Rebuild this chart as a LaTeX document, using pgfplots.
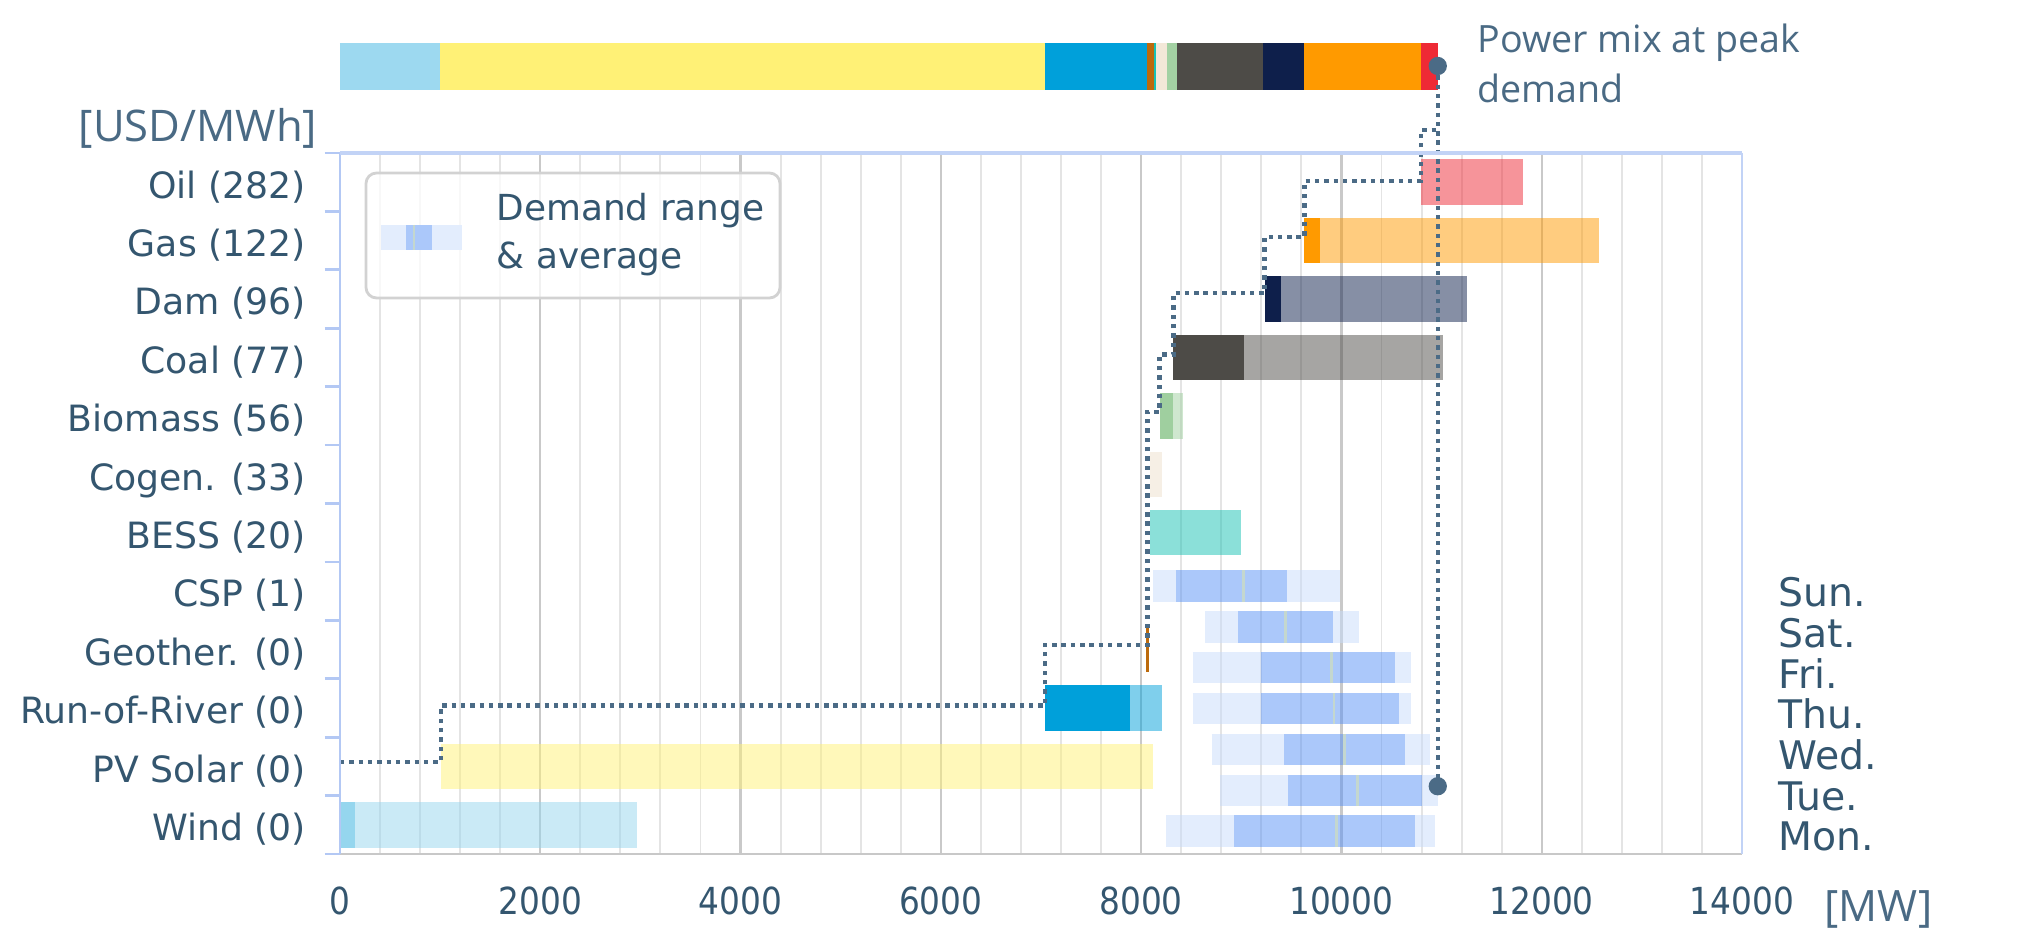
\documentclass[border=0pt]{standalone}
\usepackage{pgfplots}
\pgfplotsset{compat=1.18}
\usepackage{fontspec}
\setmainfont{DejaVu Sans}
\newfontfamily\osans{Open Sans}
\newfontfamily\narrow{DejaVu Sans}[FakeStretch=0.88]

\definecolor{txt}{HTML}{34566F}
\definecolor{pmtxt}{HTML}{4A6A84}
\definecolor{slate}{HTML}{4B6B86}
\definecolor{gridmaj}{HTML}{C9C9C9}
\definecolor{gridmin}{HTML}{E4E4E4}
\definecolor{axblue}{HTML}{B3C8F4}
\definecolor{axgray}{HTML}{C8C8C8}
\definecolor{windc}{HTML}{95D6EE}
\definecolor{windtop}{HTML}{9DD9F0}
\definecolor{pvc}{HTML}{FFF176}
\definecolor{rorc}{HTML}{00A0DA}
\definecolor{geoc}{HTML}{BC6A0C}
\definecolor{bessc}{HTML}{17C2B4}
\definecolor{cogc}{HTML}{EEDFCB}
\definecolor{cogtop}{HTML}{F3E8D8}
\definecolor{bioc}{HTML}{9FCF9F}
\definecolor{biotop}{HTML}{A3D1A3}
\definecolor{coalc}{HTML}{4D4B47}
\definecolor{damc}{HTML}{0E1F4B}
\definecolor{gasc}{HTML}{FF9A00}
\definecolor{oilc}{HTML}{EE2A35}
\definecolor{daylt}{HTML}{C7DBFB}
\definecolor{daydk}{HTML}{5791F5}
\definecolor{avgc}{HTML}{C4D7CF}
\definecolor{leglt}{HTML}{E3EDFD}
\definecolor{legdk}{HTML}{ABC8FA}
\definecolor{legborder}{HTML}{D2D2D2}

% image pixel coordinates (x right, y down) -> picture coordinates
\newcommand\PX[2]{({((#1)-340)*0.2845pt},{(854-(#2))*0.2845pt})}

\begin{document}
\begin{tikzpicture}
\path[use as bounding box] \PX{0}{0} rectangle \PX{2030}{951};
\begin{axis}[
  at={(0,0)}, anchor=south west,
  scale only axis, width=398.87pt, height=199.43pt,
  xmin=0, xmax=14000, ymin=-0.5, ymax=11.5,
  clip=false,
  axis line style={draw=none},
  xtick={0,2000,...,14000},
  scaled x ticks=false,
  minor x tick num=4,
  xmajorgrids=true, xminorgrids=true,
  major grid style={draw=gridmaj, line width=0.65pt},
  minor grid style={draw=gridmin, line width=0.55pt},
  major tick length=0pt, minor tick length=0pt,
  ytick={0,...,11},
  yticklabels={Wind (0),PV Solar (0),Run-of-River (0),Geother. (0),CSP (1),BESS (20),Cogen. (33),Biomass (56),Coal (77),Dam (96),Gas (122),Oil (282)},
  xticklabel style={font=\narrow\fontsize{10.6}{12}\selectfont, text=txt, inner sep=0pt, anchor=base, yshift=-17.15pt},
  yticklabel style={font=\fontsize{10.3}{12}\selectfont, text=txt, inner sep=0pt, anchor=base east, xshift=-9.5pt, yshift=-4.5pt},
  /pgf/number format/1000 sep={},
  /pgf/number format/assume math mode=true,
  cat/.style={line width=12.95pt, forget plot},
  day/.style={line width=8.96pt, forget plot, unbounded coords=jump},
  top/.style={line width=13.46pt, forget plot},
]
% ---- merit-order bars (dark part, then light = 50% part)
\addplot[cat, draw=windc] coordinates {(0,0) (148,0)};
\addplot[cat, draw=windc, draw opacity=0.5] coordinates {(148,0) (2965,0)};
\addplot[cat, draw=pvc, draw opacity=0.5] coordinates {(1010,1) (8116,1)};
\addplot[cat, draw=rorc] coordinates {(7041,2) (7891,2)};
\addplot[cat, draw=rorc, draw opacity=0.5] coordinates {(7891,2) (8211,2)};
\addplot[cat, draw=geoc] coordinates {(8050,3) (8083,3)};
\addplot[cat, draw=bessc, draw opacity=0.5] coordinates {(8092,5) (8999,5)};
\addplot[cat, draw=cogc, draw opacity=0.5] coordinates {(8092,6) (8208,6)};
\addplot[cat, draw=bioc] coordinates {(8185,7) (8320,7)};
\addplot[cat, draw=bioc, draw opacity=0.5] coordinates {(8320,7) (8417,7)};
\addplot[cat, draw=coalc] coordinates {(8320,8) (9027,8)};
\addplot[cat, draw=coalc, draw opacity=0.5] coordinates {(9027,8) (11017,8)};
\addplot[cat, draw=damc] coordinates {(9232,9) (9393,9)};
\addplot[cat, draw=damc, draw opacity=0.5] coordinates {(9393,9) (11254,9)};
\addplot[cat, draw=gasc] coordinates {(9630,10) (9791,10)};
\addplot[cat, draw=gasc, draw opacity=0.5] coordinates {(9791,10) (12571,10)};
\addplot[cat, draw=oilc, draw opacity=0.5] coordinates {(10793,11) (11813,11)};
% ---- daily demand: range (light) and band (dark), Mon ... Sun
\addplot[day, draw=daylt, draw opacity=0.5] coordinates {
 (8250,-0.11) (8930,-0.11) (nan,nan) (10735,-0.11) (10934,-0.11) (nan,nan)
 (8783,0.59) (9463,0.59) (nan,nan) (10805,0.59) (10965,0.59) (nan,nan)
 (8705,1.29) (9431,1.29) (nan,nan) (10638,1.29) (10889,1.29) (nan,nan)
 (8513,1.99) (9200,1.99) (nan,nan) (10574,1.99) (10696,1.99) (nan,nan)
 (8513,2.69) (9200,2.69) (nan,nan) (10536,2.69) (10696,2.69) (nan,nan)
 (8641,3.39) (8969,3.39) (nan,nan) (9919,3.39) (10176,3.39) (nan,nan)
 (8121,4.09) (8346,4.09) (nan,nan) (9457,4.09) (9983,4.09)};
\addplot[day, draw=daydk, draw opacity=0.5] coordinates {
 (8930,-0.11) (10735,-0.11) (nan,nan)
 (9463,0.59) (10805,0.59) (nan,nan)
 (9431,1.29) (10638,1.29) (nan,nan)
 (9200,1.99) (10574,1.99) (nan,nan)
 (9200,2.69) (10536,2.69) (nan,nan)
 (8969,3.39) (9919,3.39) (nan,nan)
 (8346,4.09) (9457,4.09)};
\addplot[draw=avgc, line width=0.8pt, forget plot, unbounded coords=jump] coordinates {
 (9951,-0.38) (9951,0.16) (nan,nan)
 (10163,0.32) (10163,0.86) (nan,nan)
 (10030,1.02) (10030,1.56) (nan,nan)
 (9926,1.72) (9926,2.26) (nan,nan)
 (9900,2.42) (9900,2.96) (nan,nan)
 (9444,3.12) (9444,3.66) (nan,nan)
 (9020,3.82) (9020,4.36)};
% ---- power mix at peak demand (stacked bar above the plot)
\addplot[top, draw=windtop] coordinates {(0,12.983) (1000,12.983)};
\addplot[top, draw=pvc] coordinates {(1000,12.983) (7035,12.983)};
\addplot[top, draw=rorc] coordinates {(7035,12.983) (8056,12.983)};
\addplot[top, draw=geoc] coordinates {(8056,12.983) (8129,12.983)};
\addplot[top, draw=bessc] coordinates {(8129,12.983) (8149,12.983)};
\addplot[top, draw=cogtop] coordinates {(8149,12.983) (8255,12.983)};
\addplot[top, draw=biotop] coordinates {(8255,12.983) (8357,12.983)};
\addplot[top, draw=coalc] coordinates {(8357,12.983) (9220,12.983)};
\addplot[top, draw=damc] coordinates {(9220,12.983) (9626,12.983)};
\addplot[top, draw=gasc] coordinates {(9626,12.983) (10797,12.983)};
\addplot[top, draw=oilc] coordinates {(10797,12.983) (10960,12.983)};
% ---- merit-order step line
\addplot[draw=slate, line width=1.25pt, dash pattern=on 1.25pt off 1.4pt, forget plot] coordinates {
 (0,1.08) (1010,1.08) (1010,2.04) (7041,2.04) (7041,3.08) (8062,3.08)
 (8062,7.07) (8185,7.07) (8185,8.05) (8322,8.05) (8322,9.1) (9232,9.1)
 (9232,10.06) (9630,10.06) (9630,11.02) (10793,11.02) (10793,11.89) (10962,11.89)};
\addplot[draw=slate, line width=1.25pt, dash pattern=on 1.25pt off 1.4pt, forget plot] coordinates {
 (10962,12.99) (10962,0.66)};
\addplot[only marks, mark=*, mark size=2.4pt, color=slate, forget plot] coordinates {
 (10962,12.99) (10962,0.66)};
\end{axis}
% ---- axis frame
\draw[axgray, line width=0.85pt] \PX{340}{854} -- \PX{1742}{854};
\draw[axblue, line width=0.6pt] \PX{340}{854} -- \PX{340}{153};
\draw[axblue!80, line width=0.9pt] \PX{340}{153} -- \PX{1742}{153};
\draw[axblue!80, line width=0.5pt] \PX{1742}{153} -- \PX{1742}{854};
\foreach \k in {0,...,12} \draw[axblue, line width=0.8pt] ({-4.4pt},{\k*16.619pt}) -- (0,{\k*16.619pt});
% ---- legend
\draw[rounded corners=3pt, draw=legborder, line width=0.8pt, fill=white, fill opacity=0.75] \PX{366}{173} rectangle \PX{780}{298};
\fill[leglt] \PX{381}{225} rectangle \PX{462}{250};
\fill[legdk] \PX{406}{225} rectangle \PX{432}{250};
\draw[avgc, line width=0.6pt] \PX{414}{225} -- \PX{414}{250};
\node[anchor=base west, inner sep=0pt, text=txt, font=\fontsize{10.2}{12}\selectfont] at \PX{496}{221} {Demand range};
\node[anchor=base west, inner sep=0pt, text=txt, font=\fontsize{10.2}{12}\selectfont] at \PX{496}{269} {\& average};
% ---- titles and units
\node[anchor=base east, inner sep=0pt, text=pmtxt, font=\osans\fontsize{12.4}{14}\selectfont] at \PX{318}{142} {[USD/MWh]};
\node[anchor=base west, inner sep=0pt, text=pmtxt, font=\osans\fontsize{12.3}{14}\selectfont] at \PX{1824}{922} {[MW]};
\node[anchor=base west, inner sep=0pt, text=pmtxt, font=\osans\fontsize{10.7}{13}\selectfont] at \PX{1477}{53} {Power mix at peak};
\node[anchor=base west, inner sep=0pt, text=pmtxt, font=\osans\fontsize{10.7}{13}\selectfont] at \PX{1477}{103} {demand};
% ---- weekday labels
\foreach \d/\yy in {Sun./606.7, Sat./647.4, Fri./688.1, Thu./728.8, Wed./769.5, Tue./810.2, Mon./851}
  \node[anchor=base west, inner sep=0pt, text=txt, font=\fontsize{11.2}{13}\selectfont] at \PX{1778}{\yy} {\d};
\end{tikzpicture}
\end{document}
